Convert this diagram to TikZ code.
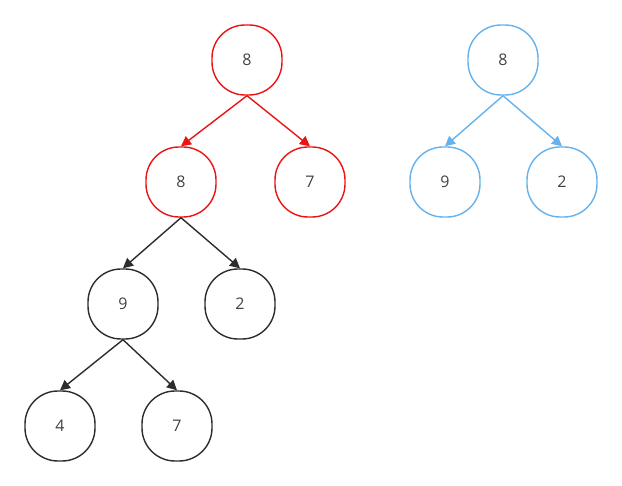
\documentclass[tikz,border=0pt]{standalone}
\usepackage{fontspec}
\setmainfont{Open Sans}
\usepackage{xcolor}
\usetikzlibrary{arrows.meta}
\definecolor{heapred}{RGB}{235,20,20}
\definecolor{heapblue}{RGB}{102,178,236}
\definecolor{heapgray}{RGB}{45,45,45}
\begin{document}
\begin{tikzpicture}[x=1pt, y=-1pt, line width=1.4pt,
    tnode/.style={rectangle, draw=#1, rounded corners=33pt, minimum size=70pt, inner sep=0pt, font=\fontsize{16}{18}\selectfont, text=heapgray!90},
    tedge/.style={draw=#1, fill=#1, -{Triangle[length=10pt, width=10pt]}}]
        \useasboundingbox (0,0) rectangle (622,486);

        % red tree
        \node[tnode=heapred] (r1) at (247, 60) {8};
        \node[tnode=heapred] (r2) at (181, 182) {8};
        \node[tnode=heapred] (r3) at (310, 182) {7};
        % black subtree
        \node[tnode=heapgray] (k1) at (123, 304) {9};
        \node[tnode=heapgray] (k2) at (240, 304) {2};
        \node[tnode=heapgray] (k3) at (60, 426) {4};
        \node[tnode=heapgray] (k4) at (177, 426) {7};
        % blue tree
        \node[tnode=heapblue] (b1) at (503, 60) {8};
        \node[tnode=heapblue] (b2) at (445, 182) {9};
        \node[tnode=heapblue] (b3) at (562, 182) {2};

        \draw[tedge=heapred] (r1.south) -- (r2.north); \draw[tedge=heapred] (r1.south) -- (r3.north);
        \draw[tedge=heapgray] (r2.south) -- (k1.north); \draw[tedge=heapgray] (r2.south) -- (k2.north);
        \draw[tedge=heapgray] (k1.south) -- (k3.north); \draw[tedge=heapgray] (k1.south) -- (k4.north);
        \draw[tedge=heapblue] (b1.south) -- (b2.north); \draw[tedge=heapblue] (b1.south) -- (b3.north);
    \end{tikzpicture}
\end{document}
